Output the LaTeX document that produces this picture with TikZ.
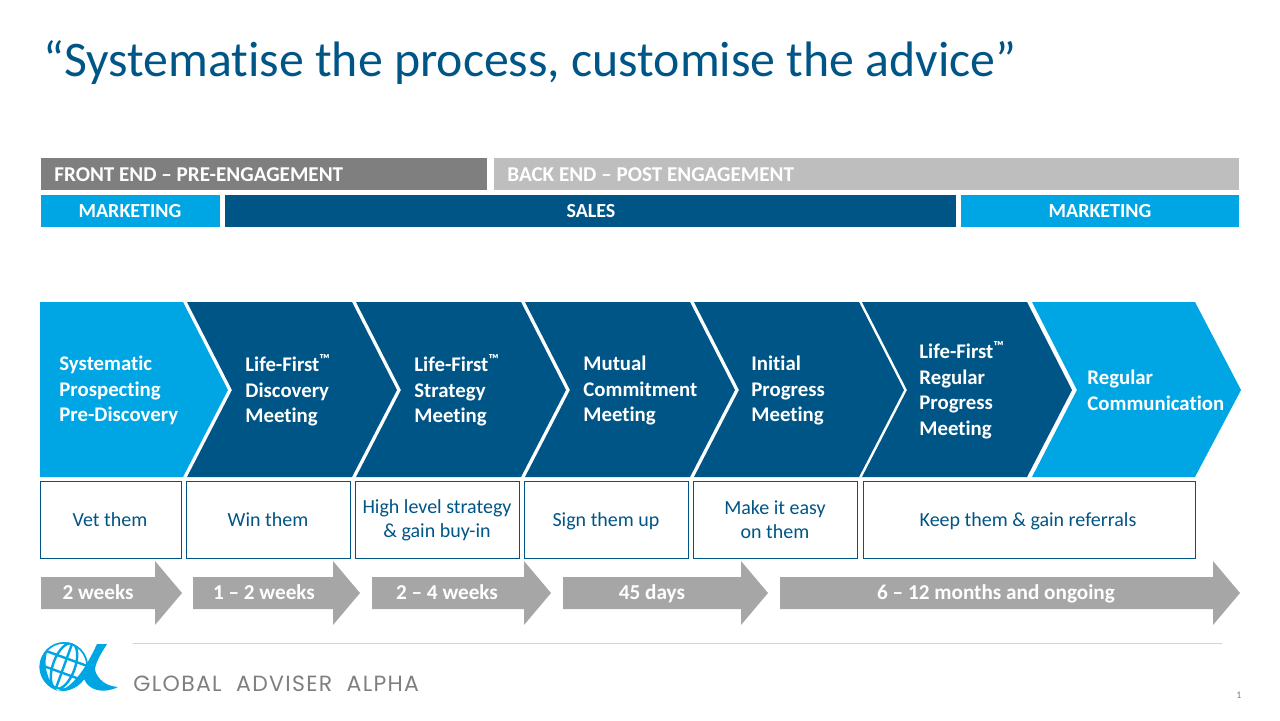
\documentclass[tikz,border=0pt]{standalone}
\usepackage{fontspec}
\setmainfont[Ligatures={TeX,NoCommon}]{Carlito}
\newfontfamily\logofont[LetterSpace=6]{Poppins}
\definecolor{dkblue}{HTML}{005587}
\definecolor{ltblue}{HTML}{00A6E3}
\definecolor{midgrey}{HTML}{7F7F7F}
\definecolor{palegrey}{HTML}{BEBEBE}
\definecolor{arrowgrey}{HTML}{A6A6A6}
\definecolor{rulegrey}{HTML}{D0D3D6}
\tikzset{
  bartext/.style={text=white,font=\fontsize{10.55}{12}\selectfont\bfseries,inner sep=0pt,anchor=base},
  salestext/.style={text=white,font=\fontsize{10}{12}\selectfont\bfseries,inner sep=0pt,anchor=base},
  steptext/.style={text=white,font=\fontsize{10.4}{12.75}\selectfont\bfseries,align=left,anchor=west,inner sep=0pt},
  notebox/.style={draw=dkblue,line width=0.5pt,fill=white},
  notetext/.style={text=dkblue,font=\fontsize{10}{12}\selectfont,align=center,inner sep=0pt},
  timetext/.style={text=white,font=\fontsize{10.6}{12}\selectfont\bfseries,inner sep=0pt,anchor=base},
  globeline/.style={draw=ltblue,line width=1.2pt}
}
% chevron: left edge, shoulder, tip, notch
\newcommand{\chevron}[5]{\fill[#1] (#2,302) -- (#3,302) -- (#4,390) -- (#3,477) -- (#2,477) -- (#5,390) -- cycle;}
% block arrow: left edge, neck, tip
\newcommand{\timearrow}[3]{\fill[arrowgrey] (#1,577) -- (#2,577) -- (#2,561) -- (#3,593) -- (#2,625) -- (#2,609) -- (#1,609) -- cycle;}
\begin{document}
\begin{tikzpicture}[x=0.5pt,y=-0.5pt]
\useasboundingbox (0,0) rectangle (1280,720);

\node[text=dkblue,font=\fontsize{24.9}{28}\selectfont,anchor=west,inner sep=0pt] (title) at (43,63)
  {“Systematise the process, customise the advice”};

% top bars
\fill[midgrey] (41,158) rectangle (487,190);
\fill[palegrey] (494,158) rectangle (1239,190);
\fill[ltblue] (41,195) rectangle (220,227);
\fill[dkblue] (225,195) rectangle (956,227);
\fill[ltblue] (961,195) rectangle (1239,227);
\node[bartext,anchor=base west] (front) at (54,181) {FRONT END – PRE-ENGAGEMENT};
\node[bartext,anchor=base west] (back) at (507,181) {BACK END – POST ENGAGEMENT};
\node[salestext] (mktleft) at (130,217) {MARKETING};
\node[salestext] (sales) at (591,217) {SALES};
\node[salestext] (mktright) at (1100,217) {MARKETING};

% process steps
\fill[ltblue] (40,302) -- (183,302) -- (228,390) -- (183,477) -- (40,477) -- cycle;
\chevron{dkblue}{187}{352}{397}{232}
\chevron{dkblue}{356}{521}{566}{401}
\chevron{dkblue}{525}{690}{735}{570}
\chevron{dkblue}{694}{859}{904}{739}
\chevron{dkblue}{862}{1027}{1072}{907}
\chevron{ltblue}{1032}{1195}{1241}{1077}
\node[steptext] (prospect) at (59,390.5) {Systematic\\Prospecting\\Pre-Discovery};
\node[steptext] (discovery) at (245,390.5) {Life-First\textsuperscript{™}\\Discovery\\Meeting};
\node[steptext] (strategy) at (414,390.5) {Life-First\textsuperscript{™}\\Strategy\\Meeting};
\node[steptext] (mutual) at (583,390.5) {Mutual\\Commitment\\Meeting};
\node[steptext] (initial) at (751,390.5) {Initial\\Progress\\Meeting};
\node[steptext] (regular) at (919,390) {Life-First\textsuperscript{™}\\Regular\\Progress\\Meeting};
\node[steptext] (comms) at (1087,390.5) {Regular\\Communication};

% what each step does
\draw[notebox] (40,481.5) rectangle (181.5,558);
\draw[notebox] (186,481.5) rectangle (350.5,558);
\draw[notebox] (355,481.5) rectangle (519.5,558);
\draw[notebox] (524,481.5) rectangle (688.5,558);
\draw[notebox] (693,481.5) rectangle (857.5,558);
\draw[notebox] (863,481.5) rectangle (1195.5,558);
\node[notetext,anchor=base] (vet) at (110,526) {Vet them};
\node[notetext,anchor=base] (win) at (268,526) {Win them};
\node[notetext] (high) at (437,520) {High level strategy\\\& gain buy-in};
\node[notetext,anchor=base] (sign) at (606,526) {Sign them up};
\node[notetext] (easy) at (775,520) {Make it easy\\on them};
\node[notetext,anchor=base] (keep) at (1028,526) {Keep them \& gain referrals};

% timings
\timearrow{41}{155}{182}
\timearrow{193}{333}{360}
\timearrow{372}{524}{551}
\timearrow{563}{741}{768}
\timearrow{780}{1213}{1240}
\node[timetext] (twow) at (98,599) {2 weeks};
\node[timetext] (onew) at (264,599) {1 – 2 weeks};
\node[timetext] (twof) at (447,599) {2 – 4 weeks};
\node[timetext] (days) at (652,599) {45 days};
\node[timetext] (months) at (996,599) {6 – 12 months and ongoing};

% footer
\draw[rulegrey,line width=0.5pt] (133,643) -- (1222,643);
\node[text=midgrey,font=\fontsize{5}{6}\selectfont,inner sep=0pt] (page) at (1239,695) {1};
\node[text=midgrey,font=\fontsize{11}{13}\logofont,anchor=base west,inner sep=0pt] (brand) at (133,691) {GLOBAL\ \ ADVISER\ \ ALPHA};

% globe and alpha mark
\begin{scope}
\clip (64,666) circle (24);
\draw[globeline] (64,666) circle (23.5);
\draw[globeline,rotate around={-20:(64,666)}] (64,666) ellipse (11 and 24);
\draw[globeline,rotate around={-20:(64,666)}] (40,658) -- (88,658);
\draw[globeline,rotate around={-20:(64,666)}] (40,673) -- (88,673);
\draw[globeline,rotate around={-20:(64,666)}] (64,642) -- (64,690);
\end{scope}
\fill[ltblue] (48,649) .. controls (34,660) and (37,684) .. (58,691) .. controls (48,683) and (42,665) .. (48,649) -- cycle;
\fill[ltblue] (97,644) -- (107,644) .. controls (100,655) and (95,664) .. (95,670)
  .. controls (98,680) and (106,686) .. (118,687) .. controls (104,694) and (89,691) .. (84,679)
  .. controls (78,687) and (70,692) .. (58,691) .. controls (72,688) and (85,670) .. (97,644) -- cycle;
\end{tikzpicture}
\end{document}
